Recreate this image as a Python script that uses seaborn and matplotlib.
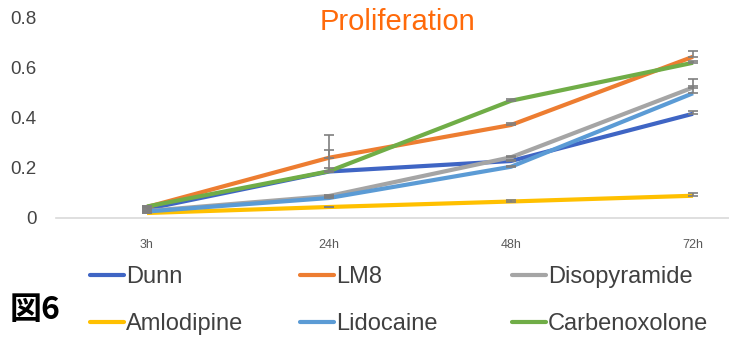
import matplotlib
matplotlib.use("Agg")
import matplotlib.pyplot as plt
import seaborn as sns
import pandas as pd
import numpy as np
from matplotlib.lines import Line2D

sns.set_theme(style="white")
plt.rcParams['font.family'] = ['Liberation Sans', 'DejaVu Sans']

times = ["3h", "24h", "48h", "72h"]
series = ["Dunn", "LM8", "Disopyramide", "Amlodipine", "Lidocaine", "Carbenoxolone"]
dunn = [0.036, 0.186, 0.228, 0.417]
lm8 = [0.044, 0.241, 0.372, 0.645]
disopyramide = [0.028, 0.088, 0.243, 0.522]
amlodipine = [0.020, 0.044, 0.066, 0.089]
lidocaine = [0.026, 0.080, 0.205, 0.499]
carbenoxolone = [0.046, 0.187, 0.469, 0.621]
values = [dunn, lm8, disopyramide, amlodipine, lidocaine, carbenoxolone]

# plus-only error bars
err_dunn = [0.004, 0.013, 0.004, 0.012]
err_lm8 = [0.004, 0.090, 0.009, 0.023]
err_disopyramide = [0.004, 0.004, 0.007, 0.034]
err_amlodipine = [0.002, 0.002, 0.005, 0.012]
err_lidocaine = [0.004, 0.003, 0.005, 0.028]
err_carbenoxolone = [0.004, 0.085, 0.007, 0.008]
errors = [err_dunn, err_lm8, err_disopyramide, err_amlodipine, err_lidocaine, err_carbenoxolone]

colors = ["#3F65C4", "#ED7D31", "#A5A5A5", "#FFC000", "#5B9BD5", "#70AD47"]
palette = dict(zip(series, colors))

rows = []
for s, vals in zip(series, values):
    for i, (t, v) in enumerate(zip(times, vals)):
        rows.append({"series": s, "idx": i, "time": t, "value": v})
df = pd.DataFrame(rows)

W, H = 729, 342
fig = plt.figure(figsize=(W / 100, H / 100), dpi=100)
left, right = 56, 784
top, bottom = 18, 218
ax = fig.add_axes([left / W, 1 - bottom / H, (right - left) / W, (bottom - top) / H])

sns.lineplot(data=df, x="idx", y="value", hue="series", palette=palette,
             hue_order=series, linewidth=3.0, ax=ax, legend=False, zorder=3)
for line in ax.get_lines():
    line.set_solid_capstyle("butt")
    line.set_solid_joinstyle("round")

for s, vals, errs in zip(series, values, errors):
    ax.errorbar(range(len(times)), vals, yerr=[np.zeros(len(errs)), errs],
                fmt="none", ecolor="#7F7F7F", elinewidth=1.2, capsize=3.5,
                capthick=1.2, zorder=4)

ax.set_xlim(-0.5, 3.5)
ax.set_ylim(0, 0.8)
ax.set_yticks([0, 0.2, 0.4, 0.6, 0.8])
ax.set_yticklabels(["0", "0.2", "0.4", "0.6", "0.8"], fontsize=13.5, color="#444444")
ax.set_xticks(range(len(times)))
ax.set_xticklabels(times, fontsize=9, color="#595959")
ax.tick_params(axis="y", length=0, pad=14)
ax.tick_params(axis="x", length=0, pad=15)
ax.set_xlabel("")
ax.set_ylabel("")
for sp in ["top", "right", "left"]:
    ax.spines[sp].set_visible(False)
ax.spines["bottom"].set_color("#D9D9D9")
ax.spines["bottom"].set_linewidth(1.2)
ax.set_facecolor("none")
fig.patch.set_facecolor("white")

fig.text(398 / W, 1 - 22 / H, "Proliferation", color="#FF6A0A", fontsize=21,
         ha="center", va="center")

# legend: three columns, two rows each (row-major order as in reference)
col_x = [90, 300, 512]
for c in range(3):
    idxs = [c, c + 3]
    handles = [Line2D([0], [0], color=colors[i], linewidth=3) for i in idxs]
    labels = [series[i] for i in idxs]
    leg = fig.legend(handles, labels, loc="upper left",
                     bbox_to_anchor=(col_x[c] / W, 1 - 266 / H), frameon=False,
                     fontsize=17, handlelength=1.45, handletextpad=0.08,
                     labelspacing=1.05, borderpad=0.0, borderaxespad=0.0)
    for t in leg.get_texts():
        t.set_color("#404040")

fig.text(10 / W, 1 - 310 / H, "図6", fontsize=23, color="black",
         family=["Noto Sans CJK JP", "DejaVu Sans"], ha="left", va="center",
         fontweight="bold")

fig.savefig("out.png", dpi=100)
